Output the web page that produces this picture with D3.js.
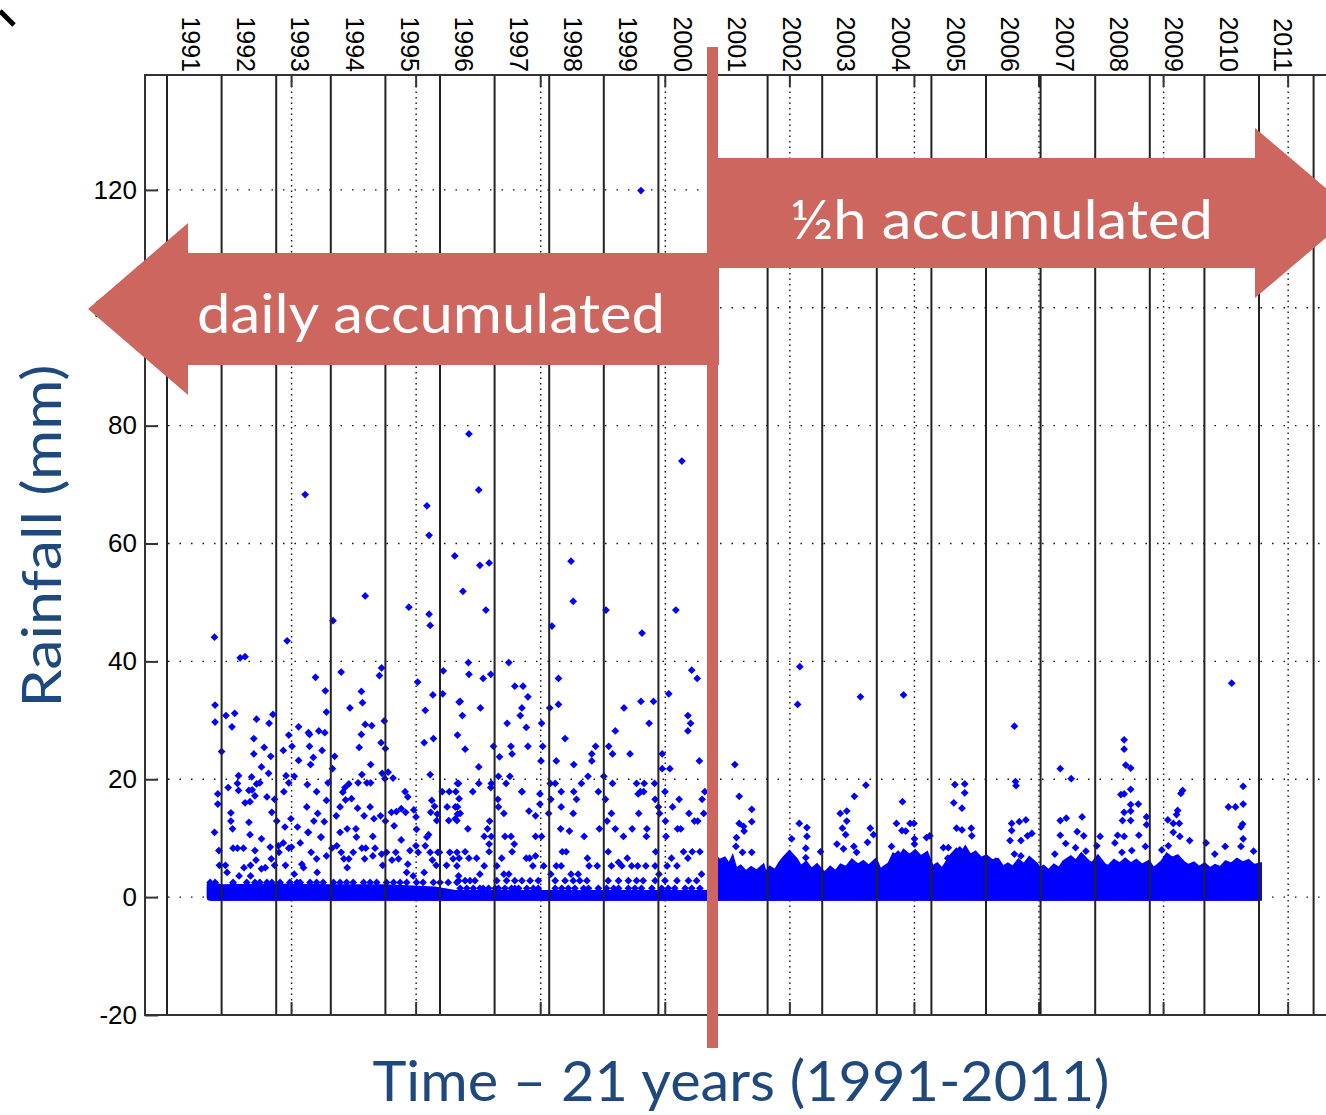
<!DOCTYPE html>
<html>
<head>
<meta charset="utf-8">
<script src="https://cdn.jsdelivr.net/npm/d3@7"></script>
<style>
  body { margin: 0; background: #fff; }
  svg { display: block; }
</style>
</head>
<body>
<div id="chart"></div>
<script>
// ---- data ----
const yearLabels = ["1991","1992","1993","1994","1995","1996","1997","1998","1999","2000",
  "2001","2002","2003","2004","2005","2006","2007","2008","2009","2010","2011"];
const yearLines = [1991,1992,1993,1994,1995,1996,1997,1998,1999,2000,2001,2002,2003,2004,2005,2006,2007,2008,2009,2010,2011,2012];
// matlab ticks are in hours since 1 Jan 1991
const hourTicks = [0,20000,40000,60000,80000,100000,120000,140000,160000,180000];
const yTicks = [-20,0,20,40,60,80,100,120];

const dataStart = 1991.79, splitYear = 2001, dataEnd = 2010.99;

// daily accumulated values, [decimal year, mm]
const dailyHigh = [[1999.68,119.9],[1996.53,78.6],[2000.43,74.0],[1996.71,69.1],[1993.53,68.3],[1995.76,66.4],
  [1995.80,61.4],[1996.27,57.9],[1998.40,57.0],[1996.90,56.7],[1996.73,56.3],[1996.42,51.9],[1994.63,51.1],
  [1998.44,50.2],[1995.43,49.2],[1996.84,48.7],[1999.04,48.7],[2000.32,48.7],[1995.80,48.0],[1994.04,46.9],
  [1998.05,46.0],[1995.82,46.1],[1999.70,44.8],[1991.87,44.1],[1993.20,43.5],[1992.34,40.6],[1992.43,40.8]];

const daily20to40 = [[1994.93,38.9],[1994.89,37.6],[1994.19,38.2],[1996.06,38.4],[1995.59,36.5],[1993.72,37.3],
  [1993.90,35.0],[1994.56,34.9],[1995.87,34.3],[1996.05,34.5],[1991.88,32.6],[1991.88,29.7],[1992.08,30.8],
  [1992.24,31.2],[1992.19,28.9],[1992.64,30.2],[1992.94,31.0],[1992.87,29.5],[1993.92,31.4],[1994.35,32.1],
  [1994.58,33.0],[1994.63,29.3],[1994.75,29.1],[1994.98,29.9],[1993.41,28.9],[1993.59,27.9],[1993.61,27.6],
  [1993.78,28.2],[1993.89,27.9],[1993.23,27.5],[1992.59,26.9],[1993.13,24.9],[1993.29,25.6],[1992.59,24.3],
  [1992.78,25.4],[1992.90,23.9],[1992.73,22.1],[1992.86,21.0],[1992.00,24.7],[1993.41,23.2],[1993.61,25.6],
  [1993.63,22.5],[1993.68,23.7],[1993.84,24.9],[1994.07,23.9],[1994.03,21.8],[1994.52,25.4],[1994.56,27.6],
  [1994.73,22.5],[1994.92,26.2],[1995.00,25.2],[1994.94,21.0],[1995.05,21.2],[1994.99,20.1],[1995.14,20.2],
  [1994.57,20.8],[1995.73,31.7],[1995.71,26.2],[1995.88,26.9],[1995.82,20.8],[1996.32,27.5],[1996.35,33.1],
  [1996.52,39.8],[1997.26,39.8],[1996.53,37.8],[1996.79,37.1],[1996.93,37.8],[1997.37,35.8],[1997.52,35.8],
  [1997.61,34.0],[1996.37,33.2],[1996.74,32.1],[1996.41,30.8],[1997.50,32.1],[1997.47,30.8],[1997.23,29.5],
  [1997.58,28.8],[1996.46,25.1],[1996.98,25.6],[1996.71,22.1],[1997.09,23.8],[1997.30,25.6],[1997.32,24.3],
  [1997.61,25.6],[1997.86,29.5],[1997.88,25.6],[1997.85,23.1],[1998.01,32.1],[1998.17,37.1],[1998.17,32.7],
  [1998.29,26.9],[1998.13,23.1],[1998.45,22.5],[1998.78,24.3],[1998.78,23.1],[1998.85,25.6],[1999.09,25.6],
  [1999.16,24.3],[1999.21,28.2],[1999.37,32.1],[1999.48,24.3],[1999.68,33.2],[1999.91,33.2],[1999.83,29.5],
  [2000.19,34.5],[2000.07,24.3],[2000.07,21.8],[2000.21,21.8],[2000.61,38.5],[2000.71,37.1],[2000.54,30.8],
  [2000.59,29.5],[2000.54,28.2],[2000.75,23.1],
  [1996.34,19.3],[1996.71,19.3],[1996.94,19.3],[1996.93,18.6],[1997.07,20.5],[1997.21,19.3],[1997.28,20.5],
  [1997.50,17.9],[1997.83,17.5],[1998.02,19.3],[1998.11,19.3],[1998.59,19.3],[1998.71,20.5],[1999.00,20.5],
  [1999.16,19.3],[1998.90,17.9],[1999.60,19.3],[1999.74,19.3],[1999.93,19.3],[1999.67,17.9],[1999.73,17.9],
  [1999.63,17.5],[2000.12,17.9],[2000.38,16.6],[2000.80,16.6],[2000.85,17.9]];

const daily10to20 = [[1991.93,17.5],[1991.93,15.8],[1991.87,11.0],[1992.12,18.6],[1992.29,19.3],[1992.31,20.6],
  [1992.31,18.1],[1992.43,16.0],[1992.52,16.2],[1992.50,18.1],[1992.55,20.4],[1992.56,18.2],[1992.64,19.2],
  [1992.70,19.4],[1992.61,17.2],[1992.17,14.3],[1992.17,12.9],[1992.20,11.6],[1992.50,12.7],[1992.52,10.6],
  [1992.83,17.0],[1992.97,16.6],[1992.92,14.4],[1993.01,12.9],[1993.14,17.9],[1993.18,20.6],[1993.23,19.4],
  [1993.33,20.5],[1993.27,13.3],[1993.16,11.9],[1993.39,11.9],[1993.57,19.1],[1993.74,17.9],[1993.56,15.3],
  [1993.69,12.9],[1993.76,14.2],[1993.82,10.2],[1993.59,11.0],[1993.88,12.8],[1993.92,16.4],[1993.95,19.4],
  [1994.10,13.8],[1994.17,15.3],[1994.22,17.8],[1994.26,18.6],[1994.33,19.2],[1994.27,16.5],[1994.38,16.7],
  [1994.50,19.4],[1994.66,19.4],[1994.73,19.4],[1994.49,15.1],[1994.30,11.6],[1994.46,11.6],[1994.61,13.8],
  [1994.72,15.3],[1994.79,13.3],[1994.91,13.8],[1995.00,12.9],[1994.77,10.3],[1995.11,14.4],[1995.20,14.5],
  [1995.29,15.0],[1995.16,12.1],[1995.36,17.9],[1995.41,17.0],[1995.37,14.4],[1995.52,14.8],[1995.57,11.5],
  [1995.56,13.6],[1995.29,9.7],[1995.85,16.4],[1995.83,14.4],[1995.90,15.4],[1995.95,14.1],[1995.94,13.0],
  [1996.04,17.9],[1996.17,17.9],[1996.13,15.3],[1996.16,13.0],[1996.29,17.9],[1996.32,19.3],[1996.28,15.3],
  [1996.32,14.1],[1996.31,13.0],[1995.76,10.2],[1995.79,10.6],[1995.73,8.7],
  [1996.35,16.7],[1996.32,15.3],[1996.37,14.2],[1996.28,13.3],[1996.51,11.6],[1996.60,17.9],[1997.06,16.6],
  [1997.07,15.3],[1997.17,14.2],[1997.50,17.9],[1997.63,14.6],[1997.75,13.8],[1997.83,15.8],[1998.03,16.6],
  [1997.99,14.2],[1998.22,17.9],[1998.22,15.3],[1998.45,17.9],[1998.50,16.6],[1998.44,14.2],[1998.21,11.6],
  [1998.37,11.2],[1998.64,10.3],[1998.92,11.6],[1999.03,16.6],[1999.06,12.9],[1999.14,14.2],[1999.21,11.6],
  [1999.36,10.3],[1999.52,11.6],[1999.64,14.2],[1999.79,11.6],[1999.78,10.3],[1999.94,16.6],[2000.00,15.3],
  [2000.02,14.2],[2000.13,12.9],[2000.14,10.3],[2000.26,15.3],[2000.35,11.6],[2000.41,11.6],[2000.56,14.2],
  [2000.66,12.9],[2000.72,12.9],[2000.83,14.2],[1996.87,11.6],[1996.91,12.9],[1996.81,10.3],[1996.94,10.3],
  [1997.19,10.3],[1997.30,10.3],[1997.75,10.3],[1997.86,10.3]];

const dailyLow = [[1991.95,7.9],[1991.96,5.4],[1992.07,5.4],[1992.10,4.2],[1992.21,8.3],[1992.21,2.2],[1992.29,8.3],
  [1992.40,8.3],[1992.41,5.0],[1992.32,3.6],[1992.53,3.6],[1992.53,5.4],[1992.61,7.9],[1992.63,6.3],[1992.73,9.9],
  [1992.73,4.8],[1992.80,5.0],[1992.89,8.5],[1992.91,6.5],[1992.97,5.4],[1993.04,8.7],[1993.05,7.6],[1993.13,9.2],
  [1993.23,8.3],[1993.17,5.4],[1993.28,8.5],[1993.44,9.2],[1993.47,5.6],[1993.33,3.9],[1993.50,5.0],[1993.58,11.0],
  [1993.64,7.6],[1993.74,6.5],[1993.75,4.2],[1993.82,10.2],[1993.92,7.0],[1994.02,8.3],[1994.11,8.7],[1994.17,11.0],
  [1994.19,7.6],[1994.24,6.5],[1994.30,5.0],[1994.33,6.5],[1994.41,7.6],[1994.47,10.2],[1994.57,8.3],[1994.62,6.5],
  [1994.64,8.3],[1994.77,7.0],[1994.81,8.3],[1994.93,7.3],[1994.95,5.4],[1995.02,7.6],[1995.12,6.3],[1995.19,7.6],
  [1995.24,6.5],[1995.39,4.2],[1995.41,5.6],[1995.45,7.9],[1995.51,3.6],[1995.56,8.7],[1995.60,7.6],[1995.71,4.2],
  [1995.82,7.6],[1995.86,6.3],[1995.93,5.4],[1995.96,7.6],[1995.99,7.6],[1996.12,5.4],[1996.18,7.6],[1996.24,6.5],
  [1996.31,7.6],[1996.34,3.6],
  [1996.35,6.6],[1996.46,7.7],[1996.53,6.6],[1996.67,6.6],[1996.31,5.3],[1996.81,5.3],[1996.90,7.7],[1996.90,9.0],
  [1997.04,5.3],[1997.13,6.6],[1997.17,3.9],[1997.26,3.9],[1997.32,7.7],[1997.36,9.0],[1997.58,6.6],[1997.64,6.6],
  [1997.70,5.3],[1997.75,7.0],[1997.90,5.3],[1998.03,3.9],[1998.13,5.3],[1998.22,5.3],[1998.24,7.7],[1998.31,7.7],
  [1998.40,3.9],[1998.53,3.9],[1998.70,6.6],[1998.73,5.3],[1998.88,5.3],[1999.08,7.7],[1999.14,5.3],[1999.27,5.9],
  [1999.33,5.3],[1999.43,6.6],[1999.51,5.3],[1999.62,5.3],[1999.77,5.3],[1999.94,5.3],[1999.95,7.7],[2000.01,3.9],
  [2000.16,5.3],[2000.24,6.6],[2000.34,5.3],[2000.46,7.7],[2000.54,6.6],[2000.62,7.7],[2000.76,7.7],[2000.79,3.9],
  [1996.73,3.9],[1997.01,1.5],[1997.37,1.5]];

// rows of small values along the bottom of the daily period
const dailyRows = [[1991.79,2.5],[1991.88,2.5],[1992.21,2.5],[1992.46,2.5],[1992.61,2.5],[1992.70,2.5],[1992.83,2.5],
  [1992.92,2.5],[1993.07,2.5],[1993.25,2.5],[1993.38,2.5],[1993.44,2.5],[1993.62,2.5],[1993.74,2.5],[1993.86,2.5],
  [1994.05,2.5],[1994.17,2.5],[1994.29,2.5],[1994.41,2.5],[1994.60,2.5],[1994.72,2.5],[1994.84,2.5],[1995.02,2.5],
  [1995.15,2.5],[1995.27,2.5],[1995.39,2.5],[1995.57,2.5],[1995.69,2.5],[1995.88,2.5],[1996.00,2.5],[1996.15,2.5],
  [1996.31,2.5],
  [1996.37,1.5],[1996.49,1.5],[1996.61,1.5],[1996.73,1.5],[1996.79,1.5],[1996.89,1.5],[1997.07,1.5],[1997.19,1.5],
  [1997.31,1.5],[1997.44,1.5],[1997.59,1.5],[1997.71,1.5],[1997.80,1.5],[1998.11,1.5],[1998.23,1.5],[1998.35,1.5],
  [1998.47,1.5],[1998.63,1.5],[1998.72,1.5],[1998.90,1.5],[1999.05,1.5],[1999.18,1.5],[1999.27,1.5],[1999.45,1.5],
  [1999.57,1.5],[1999.69,1.5],[1999.88,1.5],[2000.06,1.5],[2000.18,1.5],[2000.30,1.5],[2000.49,1.5],[2000.61,1.5],
  [2000.76,1.5],
  [1996.34,2.8],[1996.46,2.8],[1996.55,2.8],[1996.64,2.8],[1997.04,2.8],[1997.22,2.8],[1997.37,2.8],[1997.50,2.8],
  [1997.65,2.8],[1997.80,2.8],[1998.11,2.8],[1998.29,2.8],[1998.44,2.8],[1998.56,2.8],[1998.69,2.8],[1999.08,2.8],
  [1999.27,2.8],[1999.45,2.8],[1999.60,2.8],[1999.72,2.8],[1999.94,2.8],[2000.12,2.8],[2000.34,2.8],[2000.55,2.8],
  [2000.70,2.8]];

// top of the solid mass of dry/low days
const dailyBand = [[1991.79,2.0],[1992.0,1.6],[1993.0,1.7],[1994.0,1.6],[1995.0,1.6],[1995.9,1.2],[1996.3,0.6],[2001.0,0.6]];

// half-hourly: top of the solid mass, then the points above it
const halfHourBand = [[2001.0,5.5],[2001.05,6.4],[2001.1,5.8],[2001.2,6.2],[2001.3,4.8],[2001.35,5.8],[2001.4,4.2],
  [2001.5,4.8],[2001.6,3.8],[2001.7,4.6],[2001.8,4.0],[2001.9,4.8],[2001.95,3.2],[2002.05,4.6],[2002.15,4.0],
  [2002.25,5.6],[2002.32,6.4],[2002.4,7.2],[2002.5,6.2],[2002.6,4.6],[2002.7,5.4],[2002.8,4.2],[2002.9,5.0],
  [2002.96,4.4],[2003.05,3.6],[2003.15,4.6],[2003.25,3.8],[2003.35,5.0],[2003.45,4.6],[2003.55,5.8],[2003.65,5.0],
  [2003.75,5.6],[2003.85,4.8],[2003.97,5.8],[2004.05,4.0],[2004.15,4.8],[2004.25,5.4],[2004.32,6.8],[2004.42,6.2],
  [2004.5,7.4],[2004.6,6.6],[2004.7,7.4],[2004.8,6.4],[2004.9,7.0],[2005.0,4.6],[2005.1,5.2],[2005.2,4.2],
  [2005.3,5.6],[2005.38,6.8],[2005.46,7.6],[2005.55,6.8],[2005.62,7.8],[2005.7,6.6],[2005.8,7.2],[2005.9,6.2],
  [2006.0,6.6],[2006.1,5.8],[2006.2,6.0],[2006.3,4.6],[2006.4,5.2],[2006.5,4.6],[2006.6,5.8],[2006.7,5.0],
  [2006.8,6.2],[2006.9,5.4],[2006.97,4.4],[2007.05,4.8],[2007.15,4.0],[2007.25,5.0],[2007.35,4.4],[2007.45,5.8],
  [2007.55,6.4],[2007.65,5.6],[2007.75,6.8],[2007.85,5.8],[2007.95,5.2],[2008.05,6.4],[2008.15,5.2],[2008.25,4.8],
  [2008.35,5.8],[2008.45,5.2],[2008.55,6.0],[2008.65,5.2],[2008.75,5.8],[2008.85,5.0],[2008.97,5.6],[2009.05,4.4],
  [2009.15,5.0],[2009.25,5.8],[2009.32,6.8],[2009.4,6.2],[2009.5,6.6],[2009.6,5.6],[2009.7,5.0],[2009.8,5.4],
  [2009.9,4.6],[2010.0,5.2],[2010.1,4.4],[2010.2,5.0],[2010.3,4.6],[2010.4,5.6],[2010.5,5.2],[2010.6,6.0],
  [2010.7,5.4],[2010.8,5.8],[2010.9,5.0],[2010.99,5.2]];

const halfHourPoints = [[2002.59,39.1],[2002.55,32.7],[2003.70,34.0],[2004.49,34.3],[2001.40,22.5],[2001.48,17.1],
  [2001.71,14.9],[2001.48,12.5],[2001.56,12.0],[2001.57,11.2],[2001.71,12.8],[2001.43,10.1],[2001.42,8.6],
  [2001.71,7.6],[2001.54,7.6],[2002.58,12.5],[2002.72,11.8],[2002.72,10.3],[2002.44,9.9],[2002.70,8.3],[2002.70,6.7],
  [2002.97,7.7],[2003.59,17.1],[2003.80,19.0],[2003.33,14.2],[2003.45,14.6],[2003.45,12.9],[2003.37,11.7],
  [2003.43,10.6],[2003.27,9.0],[2003.39,8.2],[2003.58,8.6],[2003.63,7.6],[2003.83,9.3],[2003.88,11.7],[2003.94,10.6],
  [2004.47,16.2],[2004.36,12.5],[2004.46,11.3],[2004.53,11.2],[2004.61,12.5],[2004.68,12.5],[2004.69,9.9],
  [2004.69,9.0],[2004.91,10.1],[2004.97,10.4],[2004.27,8.6],[2004.39,7.3],[2005.43,19.1],[2005.61,19.2],
  [2005.61,17.7],[2005.41,16.0],[2005.56,15.1],[2005.46,11.7],[2005.56,11.4],[2005.73,11.7],[2005.74,10.4],
  [2005.22,8.4],[2005.31,8.4],[2005.52,8.0],[2005.30,6.6],
  [2006.52,29.0],[2006.54,19.6],[2006.55,18.9],[2006.47,12.5],[2006.47,11.3],[2006.61,12.8],[2006.73,13.1],
  [2006.44,9.6],[2006.64,9.6],[2006.76,10.4],[2006.84,10.8],[2006.52,7.3],[2006.64,7.0],[2007.36,21.8],
  [2007.56,20.1],[2007.36,13.0],[2007.47,13.4],[2007.36,10.5],[2007.76,13.6],[2007.67,11.1],[2007.79,10.4],
  [2007.46,9.1],[2007.64,8.4],[2007.83,7.8],[2007.26,7.3],[2008.53,26.7],[2008.53,25.1],[2008.56,22.4],
  [2008.65,21.9],[2008.65,18.3],[2008.47,17.4],[2008.53,17.5],[2008.65,15.7],[2008.79,15.8],[2008.53,14.4],
  [2008.65,14.6],[2008.50,13.0],[2008.65,13.0],[2008.94,13.6],[2008.94,12.3],[2008.09,10.3],[2008.41,10.5],
  [2008.53,10.3],[2008.80,10.5],[2008.36,9.2],[2008.49,7.6],[2008.67,7.9],[2008.92,8.6],[2008.03,8.7],
  [2009.60,18.1],[2009.57,17.6],[2009.51,14.7],[2009.49,14.0],[2009.33,13.1],[2009.43,12.5],[2009.54,12.5],
  [2009.43,11.0],[2009.55,10.3],[2009.73,9.6],[2009.34,8.7],[2009.22,8.0],[2010.50,36.3],[2010.71,18.8],
  [2010.44,15.3],[2010.57,15.3],[2010.71,15.8],[2010.70,12.4],[2010.67,11.9],[2010.71,9.9],[2010.03,9.2],
  [2010.19,7.3],[2010.38,8.6],[2010.67,8.6],[2010.90,7.8],[2006.18,6.1],[2006.00,6.2]];

// ---- drawing ----
const width = 1326, height = 1115;
const plotLeft = 145, plotTop = 75, plotBottom = 1015;
const blue = "#0000ff", red = "#cd665f", navy = "#1f497d";

const svg = d3.select("#chart").append("svg")
  .attr("width", width)
  .attr("height", height)
  .style("background", "#fff");

const x = d3.scaleLinear().domain([1991, 2012]).range([167, 1313.6]);
const y = d3.scaleLinear().domain([-20, 139.5]).range([plotBottom, plotTop]);
const xh = h => x(1991 + h / 8766);

// horizontal dotted grid
svg.append("g").selectAll("line")
  .data(yTicks.filter(d => d > -20))
  .join("line")
  .attr("x1", plotLeft).attr("x2", width)
  .attr("y1", d => y(d)).attr("y2", d => y(d))
  .attr("stroke", "#111").attr("stroke-width", 1.4)
  .attr("stroke-dasharray", "1.5,10");

// vertical dotted grid at the real (hour) ticks, plus tick marks top and bottom
const hg = svg.append("g");
hg.selectAll("line.grid")
  .data(hourTicks)
  .join("line").attr("class", "grid")
  .attr("x1", d => xh(d)).attr("x2", d => xh(d))
  .attr("y1", plotTop).attr("y2", plotBottom)
  .attr("stroke", "#111").attr("stroke-width", 1.4)
  .attr("stroke-dasharray", "1.5,4");
hg.selectAll("line.tt")
  .data(hourTicks)
  .join("line").attr("class", "tt")
  .attr("x1", d => xh(d)).attr("x2", d => xh(d))
  .attr("y1", plotTop).attr("y2", plotTop + 12)
  .attr("stroke", "#333").attr("stroke-width", 2);
hg.selectAll("line.bt")
  .data(hourTicks)
  .join("line").attr("class", "bt")
  .attr("x1", d => xh(d)).attr("x2", d => xh(d))
  .attr("y1", plotBottom - 13).attr("y2", plotBottom)
  .attr("stroke", "#333").attr("stroke-width", 2);

// solid masses of points (band tops), stroked to mimic marker size
const band = d3.area()
  .x(d => x(d[0]))
  .y0(y(0))
  .y1(d => y(d[1]));

svg.append("path")
  .datum(dailyBand)
  .attr("d", band)
  .attr("fill", blue).attr("stroke", blue)
  .attr("stroke-width", 7).attr("stroke-linejoin", "round");

svg.append("path")
  .datum(halfHourBand)
  .attr("d", band)
  .attr("fill", blue).attr("stroke", blue)
  .attr("stroke-width", 7).attr("stroke-linejoin", "miter");

// zero run across the whole record
svg.append("path")
  .datum([dataStart, dataEnd])
  .attr("d", d3.line().x(d => x(d)).y(y(0)))
  .attr("stroke", blue).attr("stroke-width", 7);

// scatter markers
const marker = d3.symbol(d3.symbolSquare, 30);
const allPoints = [].concat(dailyHigh, daily20to40, daily10to20, dailyLow, dailyRows, halfHourPoints);
svg.append("g").selectAll("path")
  .data(allPoints)
  .join("path")
  .attr("d", marker)
  .attr("transform", d => `translate(${x(d[0])},${y(d[1])}) rotate(45)`)
  .attr("fill", blue);

// year boundary lines (drawn over the points)
svg.append("g").selectAll("line")
  .data(yearLines)
  .join("line")
  .attr("x1", d => x(d)).attr("x2", d => x(d))
  .attr("y1", plotTop).attr("y2", plotBottom)
  .attr("stroke", "#222").attr("stroke-width", 2);

// axes frame
const frame = svg.append("g").attr("stroke", "#333").attr("stroke-width", 2);
frame.append("line").attr("x1", plotLeft).attr("x2", plotLeft).attr("y1", plotTop - 1).attr("y2", plotBottom + 1);
frame.append("line").attr("x1", plotLeft).attr("x2", width).attr("y1", plotTop).attr("y2", plotTop);
frame.append("line").attr("x1", plotLeft).attr("x2", width).attr("y1", plotBottom).attr("y2", plotBottom);

// y axis
const yAxis = svg.append("g")
  .attr("transform", `translate(${plotLeft},0)`)
  .call(d3.axisLeft(y).tickValues(yTicks).tickSizeInner(-13).tickSizeOuter(0)
    .tickPadding(8).tickFormat(d => String(d)));
yAxis.select(".domain").remove();
yAxis.selectAll(".tick line").attr("stroke", "#333").attr("stroke-width", 2);
yAxis.selectAll(".tick text")
  .attr("font-family", "'Liberation Sans', Arial, sans-serif")
  .attr("font-size", 26).attr("fill", "#000");

// year labels on top, rotated
svg.append("g").selectAll("text")
  .data(yearLabels)
  .join("text")
  .attr("transform", d => `translate(${x(+d) + 24},72) rotate(90)`)
  .attr("text-anchor", "end")
  .attr("dy", "0.35em")
  .attr("font-family", "'Liberation Sans', Arial, sans-serif")
  .attr("font-size", 25)
  .attr("fill", "#000")
  .text(d => d);

// axis titles
svg.append("text")
  .attr("transform", "translate(61,536) rotate(-90)")
  .attr("text-anchor", "middle")
  .attr("font-family", "Lato, 'Open Sans', sans-serif")
  .attr("font-size", 54).attr("fill", navy)
  .attr("textLength", 343).attr("lengthAdjust", "spacingAndGlyphs")
  .text("Rainfall (mm)");

svg.append("text")
  .attr("x", 741).attr("y", 1101)
  .attr("text-anchor", "middle")
  .attr("font-family", "Lato, 'Open Sans', sans-serif")
  .attr("font-size", 56).attr("fill", navy)
  .attr("textLength", 737).attr("lengthAdjust", "spacingAndGlyphs")
  .text("Time \u2013 21 years (1991-2011)");

// ---- annotations: split bar and the two arrows ----
const xs = x(splitYear);
const ann = svg.append("g");

// left arrow (daily accumulated)
const la = { cy: 309, half: 56, headHalf: 86, tip: 88, base: 188, end: xs + 6 };
ann.append("path")
  .attr("d", `M${la.tip},${la.cy} L${la.base},${la.cy - la.headHalf} L${la.base},${la.cy - la.half}
    L${la.end},${la.cy - la.half} L${la.end},${la.cy + la.half} L${la.base},${la.cy + la.half}
    L${la.base},${la.cy + la.headHalf} Z`)
  .attr("fill", red);

// right arrow (half-hour accumulated)
const ra = { cy: 213, half: 55, headHalf: 85, start: xs - 6, base: 1255, tip: 1355 };
ann.append("path")
  .attr("d", `M${ra.start},${ra.cy - ra.half} L${ra.base},${ra.cy - ra.half} L${ra.base},${ra.cy - ra.headHalf}
    L${ra.tip},${ra.cy} L${ra.base},${ra.cy + ra.headHalf} L${ra.base},${ra.cy + ra.half}
    L${ra.start},${ra.cy + ra.half} Z`)
  .attr("fill", red);

// vertical split bar
ann.append("rect")
  .attr("x", xs - 6).attr("y", 47)
  .attr("width", 11).attr("height", 1001)
  .attr("fill", red);

ann.append("text")
  .attr("x", 197).attr("y", 333)
  .attr("font-family", "Lato, 'Open Sans', sans-serif")
  .attr("font-size", 54).attr("fill", "#fff")
  .attr("textLength", 468).attr("lengthAdjust", "spacingAndGlyphs")
  .text("daily accumulated");

ann.append("text")
  .attr("x", 790).attr("y", 239)
  .attr("font-family", "Lato, 'Open Sans', sans-serif")
  .attr("font-size", 54).attr("fill", "#fff")
  .attr("textLength", 423).attr("lengthAdjust", "spacingAndGlyphs")
  .text("\u00bdh accumulated");

// stray stroke in the top-left corner of the slide
svg.append("line")
  .attr("x1", 0).attr("y1", 11).attr("x2", 14).attr("y2", 25)
  .attr("stroke", "#000").attr("stroke-width", 5);
</script>
</body>
</html>
